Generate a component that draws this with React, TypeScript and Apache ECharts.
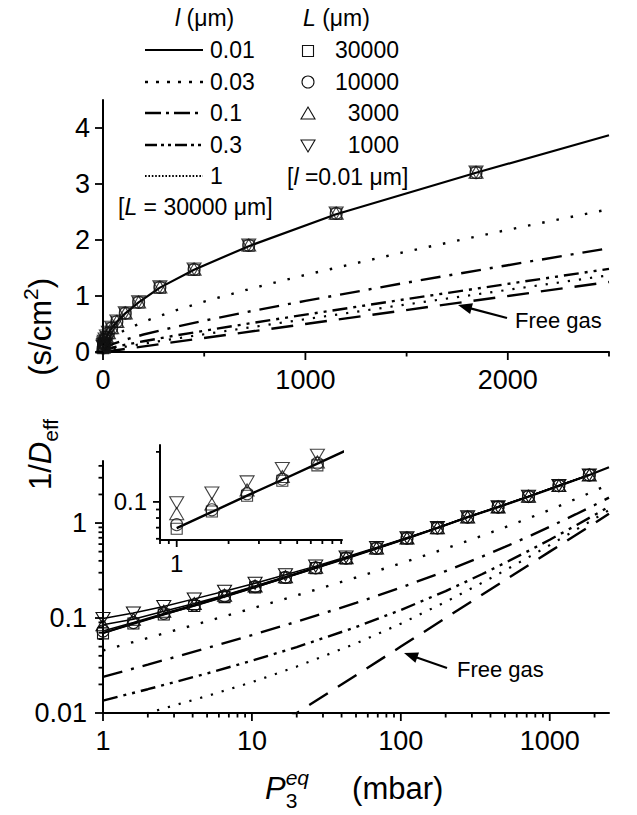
import React, { useEffect, useRef } from 'react';
import * as echarts from 'echarts';

const FONT = '"Liberation Sans", Arial, Helvetica, sans-serif';

// ---------- data ----------
// pressure points of the simulated data (mbar)
const P_MARK = [1, 1.6, 2.56, 4.1, 6.55, 10.5, 16.8, 26.8, 42.9, 68.7, 110, 176, 281, 450, 720, 1152, 1843];
// 1/Deff (s/cm2) for l = 0.01 um, several pore lengths L
const L30000 = [0.069, 0.0875, 0.109, 0.134, 0.166, 0.21, 0.265, 0.335, 0.425, 0.54, 0.69, 0.885, 1.15, 1.47, 1.9, 2.47, 3.2];
const L10000 = [0.073, 0.0896, 0.112, 0.137, 0.171, 0.214, 0.268, 0.338, 0.428, 0.543, 0.693, 0.888, 1.155, 1.475, 1.905, 2.475, 3.205];
const L3000 = [0.085, 0.097, 0.118, 0.142, 0.174, 0.218, 0.272, 0.342, 0.432, 0.547, 0.697, 0.892, 1.16, 1.48, 1.91, 2.48, 3.21];
const L1000 = [0.099, 0.113, 0.132, 0.159, 0.191, 0.232, 0.285, 0.352, 0.44, 0.553, 0.7, 0.895, 1.163, 1.483, 1.912, 2.483, 3.212];

// theory curve l = 0.01 um
const P_SOLID = [1, 1.6, 2.56, 4.1, 6.55, 10.5, 16.8, 26.8, 42.9, 68.7, 110, 176, 281, 450, 720, 1152, 1843, 2500];
const L001 = [0.0696, 0.087, 0.109, 0.136, 0.17, 0.213, 0.268, 0.336, 0.425, 0.54, 0.69, 0.885, 1.15, 1.47, 1.89, 2.46, 3.2, 3.87];

// theory curves for larger l (L = 30000 um)
const P_CURVE = [1, 2, 5, 10, 20, 50, 100, 200, 350, 500, 750, 1000, 1500, 2000, 2500];
const L003 = [0.0455, 0.0616, 0.0924, 0.126, 0.173, 0.267, 0.376, 0.539, 0.733, 0.901, 1.15, 1.377, 1.794, 2.182, 2.55];
const L01 = [0.024, 0.0323, 0.0483, 0.0661, 0.0915, 0.144, 0.209, 0.312, 0.442, 0.56, 0.742, 0.913, 1.239, 1.55, 1.854];
const L03 = [0.0135, 0.0178, 0.0261, 0.0355, 0.0494, 0.0803, 0.1215, 0.192, 0.289, 0.38, 0.526, 0.667, 0.945, 1.216, 1.485];
const L1 = [0.0075, 0.01, 0.0151, 0.0211, 0.0308, 0.054, 0.0872, 0.148, 0.234, 0.317, 0.452, 0.586, 0.85, 1.11, 1.37];

// free gas
const P_FREE = [10, 100, 1000, 2500];
const FREE = [0.005, 0.05, 0.5, 1.25];

// tick values
const TOP_X_MAJOR = [0, 1000, 2000];
const TOP_X_MINOR = [500, 1500, 2500];
const TOP_Y_MAJOR = [0, 1, 2, 3, 4];
const BOT_X_MAJOR = [1, 10, 100, 1000];
const BOT_X_MINOR = [2, 3, 4, 5, 6, 7, 8, 9, 20, 30, 40, 50, 60, 70, 80, 90, 200, 300, 400, 500, 600, 700, 800, 900, 2000];
const BOT_Y_MAJOR = [0.01, 0.1, 1];
const BOT_Y_MINOR = [0.02, 0.03, 0.04, 0.05, 0.06, 0.07, 0.08, 0.09, 0.2, 0.3, 0.4, 0.5, 0.6, 0.7, 0.8, 0.9, 2, 3, 4];
const IN_X_MAJOR = [1];
const IN_X_MINOR = [0.8, 0.9, 2, 3, 4, 5, 6, 7, 8, 9];
const IN_Y_MAJOR = [0.1];
const IN_Y_MINOR = [0.06, 0.07, 0.08, 0.09, 0.2];

// legend texts
const L_SMALL = ['0.01', '0.03', '0.1', '0.3', '1'];
const L_BIG = ['30000', '10000', '3000', '1000'];

// ---------- styles ----------
const LINE_STYLES: any = {
  l001: { type: 'solid', width: 2.2 },
  l003: { type: [2.5, 12], width: 2.4 },
  l01: { type: [20, 9, 3, 9], width: 2.4 },
  l03: { type: [15, 6, 3, 6, 3, 6], width: 2.4 },
  l1: { type: [2.2, 9], width: 2.2 },
  free: { type: [22, 12], width: 2.4 },
};
const LEGEND_DASH: any[] = [null, [3, 8], [16, 5, 3, 5], [12, 4, 3, 4, 3, 4], [1.6, 1.8]];
const SYMBOLS: any[] = [
  { symbol: 'rect', symbolSize: 11, symbolRotate: 0 },
  { symbol: 'circle', symbolSize: 12, symbolRotate: 0 },
  { symbol: 'triangle', symbolSize: [14, 12], symbolRotate: 0 },
  { symbol: 'triangle', symbolSize: [14, 12], symbolRotate: 180 },
];
const MARK_ITEM = { color: 'rgba(0,0,0,0)', borderColor: '#111', borderWidth: 1.1 };

const zip = (xs: number[], ys: number[]) => xs.map((x, i) => [x, ys[i]]);
const withOrigin = (xs: number[], ys: number[]) => [[0, 0], ...zip(xs, ys)];

let ctx: CanvasRenderingContext2D | null = null;
function textWidth(t: string, size: number, italic?: boolean) {
  if (!ctx) ctx = document.createElement('canvas').getContext('2d');
  if (!ctx) return t.length * size * 0.55;
  ctx.font = `${italic ? 'italic ' : ''}${size}px ${FONT}`;
  return ctx.measureText(t).width;
}

type Piece = { t: string; s: number; it?: boolean; dy?: number; same?: boolean };
function layoutPieces(pieces: Piece[], baseline: number) {
  let cursor = 0;
  let lastX = 0;
  const els: any[] = [];
  for (const p of pieces) {
    const px = p.same ? lastX : cursor;
    const w = textWidth(p.t, p.s, p.it);
    els.push({
      type: 'text',
      x: px,
      y: baseline + (p.dy || 0) - 0.3465 * p.s,
      style: {
        text: p.t,
        fontSize: p.s,
        fontFamily: FONT,
        fontStyle: p.it ? 'italic' : 'normal',
        fill: '#000',
        align: 'left',
        verticalAlign: 'middle',
      },
    });
    lastX = px;
    cursor = Math.max(cursor, px + w);
  }
  return { els, width: cursor };
}

function majorFormatter(majors: number[]) {
  return (v: number) => {
    const m = majors.find((mm) => Math.abs(v - mm) <= Math.abs(mm) * 1e-6 + 1e-9);
    return m === undefined ? '' : String(m);
  };
}

function axisBase(fontSize: number, margin: number, majors: number[]) {
  return {
    axisLine: { show: true, onZero: false, lineStyle: { color: '#000', width: 2 } },
    axisTick: { show: false },
    minorTick: { show: false },
    splitLine: { show: false },
    minorSplitLine: { show: false },
    axisLabel: { color: '#000', fontFamily: FONT, fontSize, margin, formatter: majorFormatter(majors) },
  };
}

function tickSeries(xi: number, pts: number[][], dx: number, dy: number) {
  return {
    type: 'custom',
    xAxisIndex: xi,
    yAxisIndex: xi,
    silent: true,
    z: 10,
    data: pts,
    renderItem: (params: any, api: any) => {
      const p = api.coord([api.value(0), api.value(1)]);
      return {
        type: 'line',
        shape: { x1: p[0], y1: p[1], x2: p[0] + dx, y2: p[1] + dy },
        style: { stroke: '#000', lineWidth: 1.8 },
      };
    },
  };
}

function arrow(x1: number, y1: number, x2: number, y2: number) {
  const ang = Math.atan2(y2 - y1, x2 - x1);
  const L = 14;
  const W = 5.5;
  const bx = x2 - L * Math.cos(ang);
  const by = y2 - L * Math.sin(ang);
  const nx = -Math.sin(ang);
  const ny = Math.cos(ang);
  return [
    { type: 'line', shape: { x1, y1, x2: bx + 2 * Math.cos(ang), y2: by + 2 * Math.sin(ang) }, style: { stroke: '#000', lineWidth: 2.2 } },
    { type: 'polygon', shape: { points: [[x2, y2], [bx + nx * W, by + ny * W], [bx - nx * W, by - ny * W]] }, style: { fill: '#000' } },
  ];
}

function txt(text: string, x: number, y: number, size: number, align = 'left', rich?: any) {
  const style: any = { text, x: 0, y: 0, fontSize: size, fontFamily: FONT, fill: '#000', align, verticalAlign: 'middle' };
  if (rich) style.rich = rich;
  return { type: 'text', x, y, style };
}

function richStyles(size: number) {
  return {
    i: { fontStyle: 'italic', fontSize: size, fontFamily: FONT, fill: '#000' },
    n: { fontStyle: 'normal', fontSize: size, fontFamily: FONT, fill: '#000' },
  };
}

function buildOption() {
  const lineSeries = (xi: number, data: number[][], style: any, z = 3) => ({
    type: 'line',
    xAxisIndex: xi,
    yAxisIndex: xi,
    data,
    showSymbol: false,
    symbol: 'none',
    silent: true,
    z,
    lineStyle: { color: '#000', width: style.width, type: style.type, cap: 'butt' },
  });
  const markSeries = (xi: number, data: number[][], k: number) => ({
    type: 'scatter',
    xAxisIndex: xi,
    yAxisIndex: xi,
    data,
    silent: true,
    z: 5,
    ...SYMBOLS[k],
    itemStyle: MARK_ITEM,
  });
  const markLineSeries = (xi: number, data: number[][], k: number) => ({
    type: 'line',
    xAxisIndex: xi,
    yAxisIndex: xi,
    data,
    silent: true,
    z: 4,
    showSymbol: true,
    ...SYMBOLS[k],
    itemStyle: MARK_ITEM,
    lineStyle: { color: '#000', width: 1.5 },
  });

  const markSets = [L30000, L10000, L3000, L1000];

  const series: any[] = [];
  // ---- top (linear) ----
  series.push(lineSeries(0, withOrigin(P_SOLID, L001), LINE_STYLES.l001));
  series.push(lineSeries(0, withOrigin(P_CURVE, L003), LINE_STYLES.l003));
  series.push(lineSeries(0, withOrigin(P_CURVE, L01), LINE_STYLES.l01));
  series.push(lineSeries(0, withOrigin(P_CURVE, L03), LINE_STYLES.l03));
  series.push(lineSeries(0, withOrigin(P_CURVE, L1), LINE_STYLES.l1));
  series.push(lineSeries(0, withOrigin(P_FREE, FREE), LINE_STYLES.free));
  markSets.forEach((m, k) => series.push(markSeries(0, zip(P_MARK, m), k)));
  // ---- bottom (log-log) ----
  series.push(lineSeries(1, zip(P_SOLID, L001), LINE_STYLES.l001));
  series.push(lineSeries(1, zip(P_CURVE, L003), LINE_STYLES.l003));
  series.push(lineSeries(1, zip(P_CURVE, L01), LINE_STYLES.l01));
  series.push(lineSeries(1, zip(P_CURVE, L03), LINE_STYLES.l03));
  series.push(lineSeries(1, zip(P_CURVE, L1), LINE_STYLES.l1));
  series.push(lineSeries(1, zip(P_FREE, FREE), LINE_STYLES.free));
  markSets.forEach((m, k) => series.push(markLineSeries(1, zip(P_MARK, m), k)));
  // ---- inset ----
  series.push(lineSeries(2, zip(P_SOLID, L001), { type: 'solid', width: 2.4 }));
  markSets.forEach((m, k) => series.push(markSeries(2, zip(P_MARK.slice(0, 5), m.slice(0, 5)), k)));

  // ---- ticks ----
  series.push(tickSeries(0, TOP_X_MAJOR.map((v) => [v, 0]), 0, 8));
  series.push(tickSeries(0, TOP_X_MINOR.map((v) => [v, 0]), 0, 4.5));
  series.push(tickSeries(0, TOP_Y_MAJOR.map((v) => [0, v]), -8, 0));
  series.push(tickSeries(1, BOT_X_MAJOR.map((v) => [v, 0.01]), 0, 8));
  series.push(tickSeries(1, BOT_X_MINOR.map((v) => [v, 0.01]), 0, 4.5));
  series.push(tickSeries(1, BOT_Y_MAJOR.map((v) => [1, v]), -8, 0));
  series.push(tickSeries(1, BOT_Y_MINOR.map((v) => [1, v]), -4.5, 0));
  series.push(tickSeries(2, IN_X_MAJOR.map((v) => [v, 0.059]), 0, 7));
  series.push(tickSeries(2, IN_X_MINOR.map((v) => [v, 0.059]), 0, 4));
  series.push(tickSeries(2, IN_Y_MAJOR.map((v) => [0.8, v]), -7, 0));
  series.push(tickSeries(2, IN_Y_MINOR.map((v) => [0.8, v]), -4, 0));

  // ---- graphic: legend, titles, annotations ----
  const g: any[] = [];
  const rs = richStyles(23);
  g.push(txt('{i|l}{n| (μm)}', 175, 18, 23, 'left', rs));
  g.push(txt('{i|L}{n| (μm)}', 303, 18, 23, 'left', rs));
  const rowY = [50, 82, 113, 145, 176];
  const legWidths = [2.2, 2.4, 2.4, 2.4, 2];
  LEGEND_DASH.forEach((dash, i) => {
    g.push({
      type: 'line',
      shape: { x1: 145, y1: rowY[i], x2: 203, y2: rowY[i] },
      style: { stroke: '#000', lineWidth: legWidths[i], lineDash: dash, lineCap: 'butt' },
    });
    g.push(txt(L_SMALL[i], 210, rowY[i], 23));
  });
  const symY = [51, 82, 113, 146];
  const sx = 308;
  const symStyle = { fill: 'none', stroke: '#111', lineWidth: 1.1 };
  g.push({ type: 'rect', shape: { x: sx - 5.5, y: symY[0] - 5.5, width: 11, height: 11 }, style: symStyle });
  g.push({ type: 'circle', shape: { cx: sx, cy: symY[1], r: 6 }, style: symStyle });
  g.push({ type: 'polygon', shape: { points: [[sx, symY[2] - 6], [sx + 7, symY[2] + 6], [sx - 7, symY[2] + 6]] }, style: symStyle });
  g.push({ type: 'polygon', shape: { points: [[sx, symY[3] + 6], [sx + 7, symY[3] - 6], [sx - 7, symY[3] - 6]] }, style: symStyle });
  L_BIG.forEach((t, i) => g.push(txt(t, 399, rowY[i], 23, 'right')));
  g.push(txt('{n|[}{i|l}{n| =0.01 μm]}', 287, 177, 23, 'left', rs));
  g.push(txt('{n|[}{i|L}{n| = 30000 μm]}', 118, 207, 23, 'left', rs));

  // Free gas annotations
  g.push(...arrow(507, 318, 458, 305));
  g.push(txt('Free gas', 515, 320, 22));
  g.push(...arrow(447, 668, 404, 653));
  g.push(txt('Free gas', 457, 669, 22));

  // y axis title (rotated)
  const yt = layoutPieces(
    [
      { t: '1/', s: 31 },
      { t: 'D', s: 31, it: true },
      { t: 'eff', s: 21, dy: 7 },
      { t: '     (s/cm', s: 31 },
      { t: '2', s: 21, dy: -13 },
      { t: ')', s: 31 },
    ],
    11
  );
  yt.els.forEach((e) => (e.x -= yt.width / 2));
  g.push({ type: 'group', x: 40, y: 384, rotation: Math.PI / 2, children: yt.els });

  // x axis title
  const xt = layoutPieces(
    [
      { t: 'P', s: 31, it: true },
      { t: '3', s: 21, dy: 9 },
      { t: 'eq', s: 21, it: true, dy: -14, same: true },
      { t: '     (mbar)', s: 31 },
    ],
    0
  );
  g.push({ type: 'group', x: 265, y: 799, children: xt.els });

  return {
    animation: false,
    backgroundColor: '#fff',
    grid: [
      { left: 103, top: 100, width: 506, height: 252, outerBoundsMode: 'none', containLabel: false },
      { left: 103, top: 461, width: 506, height: 252, outerBoundsMode: 'none', containLabel: false },
      { left: 160, top: 445, width: 182, height: 95, outerBoundsMode: 'none', containLabel: false },
    ],
    xAxis: [
      { type: 'value', gridIndex: 0, min: 0, max: 2500, interval: 1000, ...axisBase(27, 14, TOP_X_MAJOR) },
      { type: 'log', logBase: 10, gridIndex: 1, min: 1, max: 2500, ...axisBase(27, 14, BOT_X_MAJOR) },
      { type: 'log', logBase: 10, gridIndex: 2, min: 0.8, max: 9.1, ...axisBase(24, 11, IN_X_MAJOR) },
    ],
    yAxis: [
      { type: 'value', gridIndex: 0, min: 0, max: 4.5, interval: 1, ...axisBase(27, 13, TOP_Y_MAJOR) },
      { type: 'log', logBase: 10, gridIndex: 1, min: 0.01, max: 4.5, ...axisBase(27, 16, BOT_Y_MAJOR) },
      { type: 'log', logBase: 10, gridIndex: 2, min: 0.059, max: 0.22, ...axisBase(24, 13, IN_Y_MAJOR) },
    ],
    series,
    graphic: g,
  };
}

export default function App() {
  const ref = useRef<HTMLDivElement>(null);
  useEffect(() => {
    if (!ref.current) return;
    const chart = echarts.init(ref.current, null, { renderer: 'svg' });
    chart.setOption(buildOption() as any);
    return () => chart.dispose();
  }, []);
  return (
    <div
      ref={ref}
      style={{ position: 'absolute', left: 0, top: 0, width: 637, height: 815, background: '#fff' }}
    />
  );
}
